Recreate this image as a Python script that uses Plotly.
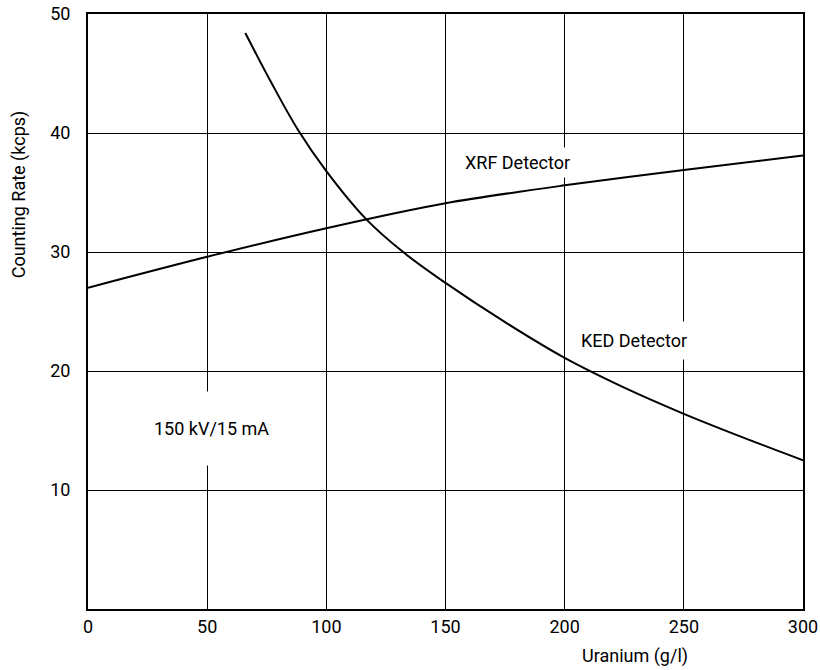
import plotly.graph_objects as go

# Data
ked_x = [66, 77, 88, 100, 117, 132.5, 150, 175, 200, 225, 250, 275, 300]
ked_y = [48.4, 44.2, 40.3, 36.8, 32.7, 29.95, 27.4, 24.1, 21.1, 18.6, 16.4, 14.4, 12.5]
xrf_x = [0, 50, 100, 150, 200, 250, 300]
xrf_y = [27.0, 29.6, 32.0, 34.1, 35.6, 36.9, 38.1]

x_ticks = [0, 50, 100, 150, 200, 250, 300]
y_ticks = [10, 20, 30, 40, 50]

FONT = "Roboto, Liberation Sans, sans-serif"

fig = go.Figure()
fig.add_trace(go.Scatter(x=xrf_x, y=xrf_y, mode="lines",
                         line=dict(color="black", width=2, shape="spline", smoothing=0.8),
                         showlegend=False, hoverinfo="skip"))
fig.add_trace(go.Scatter(x=ked_x, y=ked_y, mode="lines",
                         line=dict(color="black", width=2, shape="spline", smoothing=1.0),
                         showlegend=False, hoverinfo="skip"))

ann_font = dict(family=FONT, size=18, color="black")
fig.add_annotation(x=180, y=37.5, text="XRF Detector", showarrow=False,
                   font=ann_font, bgcolor="white", borderpad=4)
fig.add_annotation(x=229, y=22.6, text="KED Detector", showarrow=False,
                   font=ann_font, bgcolor="white", borderpad=8)
fig.add_annotation(x=52, y=15.2, text="150 kV/15 mA", showarrow=False,
                   font=ann_font, bgcolor="white", borderpad=26)

# Axis titles
fig.add_annotation(xref="paper", yref="paper", x=0.765, y=-0.079,
                   xanchor="center", yanchor="middle",
                   text="Uranium (g/l)", showarrow=False,
                   font=dict(family=FONT, size=18, color="black"))
fig.add_annotation(xref="paper", yref="paper", x=-0.0965, y=0.697,
                   xanchor="center", yanchor="middle",
                   text="Counting Rate (kcps)", showarrow=False, textangle=-90,
                   font=dict(family=FONT, size=18, color="black"))

axis_common = dict(showgrid=True, gridcolor="black", gridwidth=1,
                   showline=True, linecolor="black", linewidth=2, mirror=True,
                   ticks="", zeroline=False, automargin=False,
                   ticklabeloverflow="allow",
                   tickfont=dict(family=FONT, size=18, color="black"))
fig.update_xaxes(range=[0, 300], tickvals=x_ticks, ticktext=[str(v) for v in x_ticks],
                 ticklabelstandoff=0, **axis_common)
fig.update_yaxes(range=[0, 50], tickvals=y_ticks, ticktext=[str(v) for v in y_ticks],
                 ticklabelstandoff=12, **axis_common)

fig.update_layout(width=820, height=670,
                  margin=dict(l=88, r=17, t=14, b=61),
                  plot_bgcolor="white", paper_bgcolor="white",
                  font=dict(family=FONT, color="black"))

# remove the default page margin so the figure sits at the window's top-left corner
fig.write_html("out.html",
               config={"displayModeBar": False, "staticPlot": True},
               post_script="document.body.style.margin='0';document.body.style.overflow='hidden';")
